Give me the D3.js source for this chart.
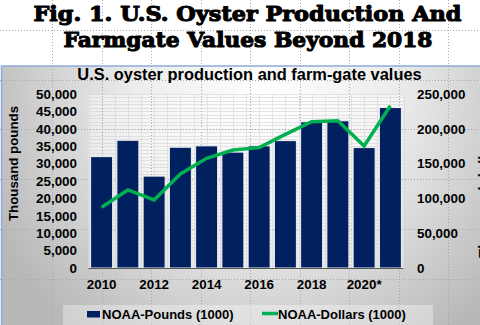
<!DOCTYPE html>
<html>
<head>
<meta charset="utf-8">
<script src="https://cdn.jsdelivr.net/npm/d3@7"></script>
<style>
  html, body { margin: 0; padding: 0; background: #ffffff; }
  svg { display: block; }
  text { font-family: "Liberation Sans", Arial, sans-serif; fill: #000; }
  text.heading { font-family: "DejaVu Serif", serif; font-weight: bold; stroke: #000; stroke-width: 1.1px; stroke-linejoin: round; }
</style>
</head>
<body>
<svg id="chart" width="480" height="325"></svg>
<script>
// Oyster production (thousand pounds) and farm-gate value (thousand dollars)
const years = ['2010','2011','2012','2013','2014','2015','2016','2017','2018','2019','2020','2021'];
const yearLabels = ['2010','','2012','','2014','','2016','','2018','','2020*',''];
const pounds = [32000, 36700, 26400, 34700, 35100, 33300, 35100, 36600, 42000, 42300, 34600, 46100];
const dollars = [87200, 112100, 97700, 135100, 157600, 169500, 172900, 192000, 210200, 211600, 175300, 233200];
const poundTicks = [0, 5000, 10000, 15000, 20000, 25000, 30000, 35000, 40000, 45000, 50000];
const dollarTicks = [0, 50000, 100000, 150000, 200000, 250000];
const seriesNames = ['NOAA-Pounds (1000)', 'NOAA-Dollars (1000)'];

const W = 480, H = 325;
const svg = d3.select('#chart');
const defs = svg.append('defs');

// panel background: soft radial gray
const grad = defs.append('radialGradient').attr('id', 'panelGrad')
  .attr('gradientUnits', 'userSpaceOnUse')
  .attr('cx', 265).attr('cy', 95).attr('r', 300);
grad.append('stop').attr('offset', '0%').attr('stop-color', '#ffffff');
grad.append('stop').attr('offset', '45%').attr('stop-color', '#ebebeb');
grad.append('stop').attr('offset', '100%').attr('stop-color', '#b8b8b8');

svg.append('rect').attr('x', 0).attr('y', 0).attr('width', W).attr('height', H).attr('fill', '#ffffff');
svg.append('rect').attr('x', 1.5).attr('y', 66).attr('width', W + 10).attr('height', H)
  .attr('fill', 'url(#panelGrad)')
  .attr('stroke', '#8faadc').attr('stroke-width', 1.5);

// scales
const plot = { left: 88.5, right: 403.5, top: 94, bottom: 268 };
const x = d3.scaleBand().domain(years).range([plot.left, plot.right])
  .paddingInner(0.162).paddingOuter(0.081);
const yL = d3.scaleLinear().domain([0, 50000]).range([plot.bottom, plot.top]);
const yR = d3.scaleLinear().domain([0, 250000]).range([plot.bottom, plot.top]);

// plot area fill and light gridlines
svg.append('rect').attr('x', plot.left).attr('y', plot.top)
  .attr('width', plot.right - plot.left).attr('height', plot.bottom - plot.top)
  .attr('fill', 'rgba(255,255,255,0.45)');
const grid = svg.append('g').attr('stroke', '#cfcfcf').attr('stroke-width', 1).attr('opacity', 0.55);
grid.selectAll('line.h').data(d3.range(1000, 50001, 1000)).join('line')
  .attr('x1', plot.left).attr('x2', plot.right)
  .attr('y1', d => Math.round(yL(d)) + 0.5).attr('y2', d => Math.round(yL(d)) + 0.5);
const half = x.step() / 2;
const vLines = [];
years.forEach(d => {
  vLines.push(x(d) + x.bandwidth() / 2 - half);
  vLines.push(x(d) + x.bandwidth() / 2);
});
vLines.push(plot.right);
grid.selectAll('line.v').data(vLines).join('line')
  .attr('x1', d => Math.round(d) + 0.5).attr('x2', d => Math.round(d) + 0.5)
  .attr('y1', plot.top).attr('y2', plot.bottom);

// layout guides (dotted)
const guides = svg.append('g').attr('stroke', '#a8a8a8').attr('stroke-width', 1)
  .attr('stroke-dasharray', '1,2');
guides.selectAll('line.gx').data(d3.range(0, 9)).join('line')
  .attr('x1', i => Math.round(52 + i * 49.5) + 0.5).attr('x2', i => Math.round(52 + i * 49.5) + 0.5)
  .attr('y1', 0).attr('y2', H);
guides.selectAll('line.gy').data(d3.range(0, 6)).join('line')
  .attr('y1', i => Math.round(30 + i * 49.7) + 0.5).attr('y2', i => Math.round(30 + i * 49.7) + 0.5)
  .attr('x1', 0).attr('x2', W);

// figure heading
const heading = svg.append('g').attr('text-anchor', 'middle');
heading.append('text').attr('class', 'heading').attr('x', 247.5).attr('y', 21).style('font-size', '21px')
  .attr('textLength', 428).attr('lengthAdjust', 'spacingAndGlyphs')
  .text('Fig. 1. U.S. Oyster Production And');
heading.append('text').attr('class', 'heading').attr('x', 248).attr('y', 47).style('font-size', '21px')
  .attr('textLength', 369).attr('lengthAdjust', 'spacingAndGlyphs')
  .text('Farmgate Values Beyond 2018');

// chart title
svg.append('text').attr('x', 249.5).attr('y', 80).attr('text-anchor', 'middle')
  .style('font-size', '16.4px').style('font-weight', 'bold')
  .text('U.S. oyster production and farm-gate values');

// bars
svg.append('g').selectAll('rect').data(years).join('rect')
  .attr('x', d => x(d)).attr('width', x.bandwidth())
  .attr('y', (d, i) => yL(pounds[i]))
  .attr('height', (d, i) => plot.bottom - yL(pounds[i]))
  .attr('fill', '#002060').attr('stroke', '#eef0f6').attr('stroke-width', 1);

// baseline
svg.append('line').attr('x1', plot.left).attr('x2', plot.right)
  .attr('y1', plot.bottom + 0.5).attr('y2', plot.bottom + 0.5)
  .attr('stroke', '#595959').attr('stroke-width', 1);

// farm-gate value line
const line = d3.line()
  .x((d, i) => x(years[i]) + x.bandwidth() / 2)
  .y(d => yR(d));
svg.append('path').datum(dollars).attr('d', line)
  .attr('fill', 'none').attr('stroke', '#00b050').attr('stroke-width', 3.5)
  .attr('stroke-linejoin', 'miter');

// axes
const tickStyle = sel => {
  sel.select('.domain').remove();
  sel.selectAll('.tick line').remove();
  sel.selectAll('text').style('font-family', '"Liberation Sans", Arial, sans-serif')
    .style('font-size', '13.4px').style('font-weight', 'bold').attr('fill', '#000');
};
svg.append('g').attr('transform', 'translate(77,0)')
  .call(d3.axisLeft(yL).tickValues(poundTicks).tickSize(0).tickPadding(0).tickFormat(d3.format(',')))
  .call(tickStyle);
svg.append('g').attr('transform', 'translate(417,0)')
  .call(d3.axisRight(yR).tickValues(dollarTicks).tickSize(0).tickPadding(0).tickFormat(d3.format(',')))
  .call(tickStyle);
const xAxis = svg.append('g').attr('transform', `translate(0,${plot.bottom})`)
  .call(d3.axisBottom(x).tickSize(0).tickFormat((d, i) => yearLabels[i]))
  .call(tickStyle);
xAxis.selectAll('text').attr('y', 11.5);

// axis titles
svg.append('text').attr('transform', 'translate(18,163.5) rotate(-90)')
  .attr('text-anchor', 'middle').style('font-size', '13.3px').style('font-weight', 'bold')
  .text('Thousand pounds');
svg.append('text').attr('transform', 'translate(489,258) rotate(-90)')
  .attr('text-anchor', 'start').style('font-size', '15px').style('font-weight', 'bold')
  .text('Thousand dollars');

// legend
const legend = svg.append('g');
legend.append('rect').attr('x', 63).attr('y', 305).attr('width', 370).attr('height', 25)
  .attr('fill', 'rgba(255,255,255,0.35)');
legend.append('rect').attr('x', 87).attr('y', 311).attr('width', 13).attr('height', 6.5)
  .attr('fill', '#002060');
legend.append('text').attr('x', 102).attr('y', 318.5).style('font-size', '13px').style('font-weight', 'bold')
  .text(seriesNames[0]);
legend.append('line').attr('x1', 262).attr('x2', 278).attr('y1', 313.5).attr('y2', 313.5)
  .attr('stroke', '#00b050').attr('stroke-width', 3.5);
legend.append('text').attr('x', 278).attr('y', 318.5).style('font-size', '13px').style('font-weight', 'bold')
  .text(seriesNames[1]);
</script>
</body>
</html>
